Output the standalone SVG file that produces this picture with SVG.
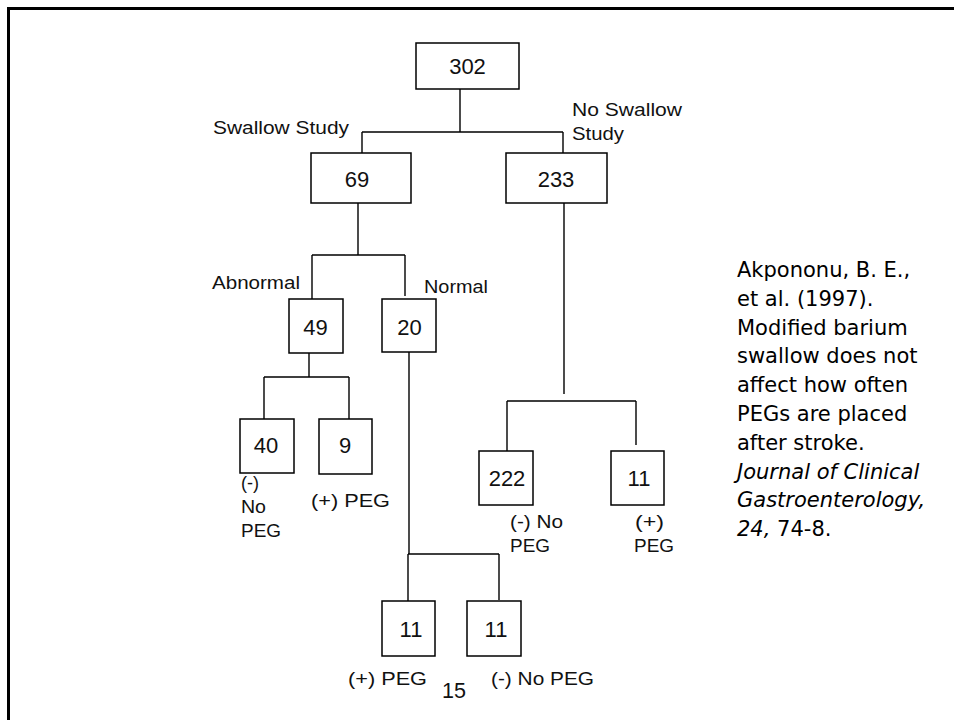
<svg xmlns="http://www.w3.org/2000/svg" width="954" height="720" viewBox="0 0 954 720">
<style>
.box{fill:none;stroke:#000;stroke-width:1.5}
.ln{fill:none;stroke:#000;stroke-width:1.4}
.num{font-family:"Liberation Sans",Arial,sans-serif;font-size:22px;fill:#111;text-anchor:middle}
.lab{font-family:"Liberation Sans",Arial,sans-serif;font-size:17.5px;fill:#111}
.cit{font-family:"DejaVu Sans",Verdana,sans-serif;font-size:21px;fill:#000}
.it{font-style:italic}
</style>
<rect x="0" y="0" width="954" height="720" fill="#fff"/>
<path d="M8.5,720 V8.5 H954" fill="none" stroke="#000" stroke-width="3"/>
<g id="connectors">
<path class="ln" d="M460,89 V132 M362,132 H563 M362,132 V153 M563,132 V153"/>
<path class="ln" d="M358,203 V255 M312,255 H405 M312,255 V299 M405,255 V296"/>
<path class="ln" d="M309,353 V377 M264,377 H349 M264,377 V419 M349,377 V419"/>
<path class="ln" d="M409,352 V554 M408,554 H499 M408,554 V601 M499,554 V600"/>
<path class="ln" d="M564,203 V394 M507,401 H636 M507,401 V451 M636,401 V445"/>
</g>
<g id="n302"><rect class="box" x="416" y="43" width="103" height="46"/><text class="num" x="467.5" y="74">302</text></g>
<g id="n69"><rect class="box" x="311" y="153" width="100" height="50"/><text class="num" x="357" y="187">69</text></g>
<g id="n233"><rect class="box" x="506" y="153" width="101" height="50"/><text class="num" x="556" y="187">233</text></g>
<g id="n49"><rect class="box" x="289" y="299" width="54" height="54"/><text class="num" x="315.5" y="335">49</text></g>
<g id="n20"><rect class="box" x="382" y="299" width="54" height="53"/><text class="num" x="409.5" y="335">20</text></g>
<g id="n40"><rect class="box" x="240" y="419" width="54" height="54"/><text class="num" x="266" y="453">40</text></g>
<g id="n9"><rect class="box" x="319" y="419" width="53" height="55"/><text class="num" x="345" y="453">9</text></g>
<g id="n222"><rect class="box" x="479" y="451" width="54" height="54"/><text class="num" x="507" y="486">222</text></g>
<g id="n11a"><rect class="box" x="611" y="451" width="53" height="54"/><text class="num" x="639" y="486">11</text></g>
<g id="n11b"><rect class="box" x="382" y="601" width="53" height="55"/><text class="num" x="411" y="637">11</text></g>
<g id="n11c"><rect class="box" x="467" y="601" width="54" height="55"/><text class="num" x="496" y="637">11</text></g>
<g id="labels">
<text class="lab" x="213" y="134" textLength="136" lengthAdjust="spacingAndGlyphs">Swallow Study</text>
<text class="lab" x="572" y="116" textLength="110" lengthAdjust="spacingAndGlyphs">No Swallow</text>
<text class="lab" x="572" y="140" textLength="52" lengthAdjust="spacingAndGlyphs">Study</text>
<text class="lab" x="212" y="289" textLength="88" lengthAdjust="spacingAndGlyphs">Abnormal</text>
<text class="lab" x="424" y="293" textLength="64" lengthAdjust="spacingAndGlyphs">Normal</text>
<text class="lab" x="241" y="489" textLength="18" lengthAdjust="spacingAndGlyphs">(-)</text>
<text class="lab" x="241" y="513" textLength="25" lengthAdjust="spacingAndGlyphs">No</text>
<text class="lab" x="241" y="537" textLength="40" lengthAdjust="spacingAndGlyphs">PEG</text>
<text class="lab" x="311" y="507" textLength="79" lengthAdjust="spacingAndGlyphs">(+)  PEG</text>
<text class="lab" x="510" y="528" textLength="53" lengthAdjust="spacingAndGlyphs">(-)  No</text>
<text class="lab" x="510" y="552" textLength="40" lengthAdjust="spacingAndGlyphs">PEG</text>
<text class="lab" x="635" y="528" textLength="29" lengthAdjust="spacingAndGlyphs">(+)</text>
<text class="lab" x="634" y="552" textLength="40" lengthAdjust="spacingAndGlyphs">PEG</text>
<text class="lab" x="348" y="685" textLength="79" lengthAdjust="spacingAndGlyphs">(+)  PEG</text>
<text class="lab" x="491" y="685" textLength="103" lengthAdjust="spacingAndGlyphs">(-)  No PEG</text>
<text class="lab" x="442" y="698" style="font-size:22px" textLength="24" lengthAdjust="spacingAndGlyphs">15</text>
</g>
<g id="citation">
<text class="cit" x="737" y="277">Akpononu, B. E.,</text>
<text class="cit" x="737" y="305.8">et al. (1997).</text>
<text class="cit" x="737" y="334.6">Modified barium</text>
<text class="cit" x="737" y="363.4">swallow does not</text>
<text class="cit" x="737" y="392.2">affect how often</text>
<text class="cit" x="737" y="421">PEGs are placed</text>
<text class="cit" x="737" y="449.8">after stroke.</text>
<text class="cit it" x="737" y="478.6">Journal of Clinical</text>
<text class="cit it" x="737" y="507.4">Gastroenterology,</text>
<text class="cit" x="737" y="536.2"><tspan class="it">24,</tspan> 74-8.</text>
</g>
</svg>
